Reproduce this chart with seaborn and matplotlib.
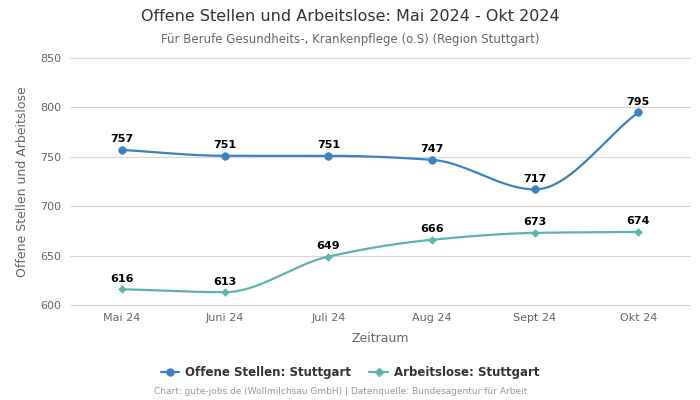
import numpy as np
import pandas as pd
import seaborn as sns
from matplotlib import pyplot as plt

months = ['Mai 24', 'Juni 24', 'Juli 24', 'Aug 24', 'Sept 24', 'Okt 24']
offene_stellen = [757, 751, 751, 747, 717, 795]
arbeitslose = [616, 613, 649, 666, 673, 674]

blue = '#3b82bf'
teal = '#5bb4ad'


def pchip(x, y, xs):
    # monotone cubic curve through the points, for a smooth line look
    x = np.asarray(x, float)
    y = np.asarray(y, float)
    h = np.diff(x)
    d = np.diff(y) / h
    m = np.zeros_like(y)
    for k in range(1, len(y) - 1):
        if d[k - 1] * d[k] > 0:
            w1 = 2 * h[k] + h[k - 1]
            w2 = h[k] + 2 * h[k - 1]
            m[k] = (w1 + w2) / (w1 / d[k - 1] + w2 / d[k])
    m[0] = d[0]
    m[-1] = d[-1]
    out = np.empty_like(xs)
    for i, xv in enumerate(xs):
        k = min(np.searchsorted(x, xv, side='right') - 1, len(x) - 2)
        t = (xv - x[k]) / h[k]
        h00 = 2 * t**3 - 3 * t**2 + 1
        h10 = t**3 - 2 * t**2 + t
        h01 = -2 * t**3 + 3 * t**2
        h11 = t**3 - t**2
        out[i] = h00 * y[k] + h10 * h[k] * m[k] + h01 * y[k + 1] + h11 * h[k] * m[k + 1]
    return out


sns.set_theme(style='white')
plt.rcParams['font.family'] = ['DejaVu Sans']

df = pd.DataFrame({'pos': np.arange(len(months)), 'Monat': months,
                   'Offene Stellen: Stuttgart': offene_stellen,
                   'Arbeitslose: Stuttgart': arbeitslose})

fig = plt.figure(figsize=(7, 4), dpi=100)
ax = fig.add_axes([0.1, 0.2375, 0.8857, 0.6175])

xs = np.linspace(0, len(months) - 1, 300)
for col, color, marker, ms in [('Offene Stellen: Stuttgart', blue, 'o', 5.5),
                               ('Arbeitslose: Stuttgart', teal, 'D', 4)]:
    smooth = pd.DataFrame({'x': xs, 'y': pchip(df['pos'], df[col], xs)})
    sns.lineplot(data=smooth, x='x', y='y', ax=ax, color=color, linewidth=1.6)
    sns.scatterplot(data=df, x='pos', y=col, ax=ax, color=color, marker=marker,
                    s=ms**2, edgecolor=color, zorder=3)
    for px, val in zip(df['pos'], df[col]):
        ax.annotate(str(val), (px, val), xytext=(0, 4), textcoords='offset points',
                    ha='center', va='bottom', fontsize=8, fontweight='bold', color='black')

ax.set_xlim(-0.5, len(months) - 0.5)
ax.set_ylim(600, 850)
ax.set_yticks(range(600, 851, 50))
ax.set_xticks(df['pos'])
ax.set_xticklabels(months)
for yv in range(600, 851, 50):
    ax.axhline(yv, color='#d6d6d6', linewidth=0.8, zorder=0, clip_on=False)
for s in ax.spines.values():
    s.set_visible(False)
ax.tick_params(axis='both', labelsize=8, colors='#666666', length=0, pad=6)
ax.set_xlabel('Zeitraum', fontsize=9, color='#666666', labelpad=6)
ax.set_ylabel('Offene Stellen und Arbeitslose', fontsize=9, color='#666666', labelpad=8)

fig.text(0.5, 0.958, 'Offene Stellen und Arbeitslose: Mai 2024 - Okt 2024', ha='center', va='center',
         fontsize=11.5, color='#333333')
fig.text(0.5, 0.902, 'Für Berufe Gesundheits-, Krankenpflege (o.S) (Region Stuttgart)', ha='center',
         va='center', fontsize=8.5, color='#666666')

handles = [plt.Line2D([], [], color=blue, marker='o', markersize=5, linewidth=1.6),
           plt.Line2D([], [], color=teal, marker='D', markersize=4, linewidth=1.6)]
leg = fig.legend(handles, ['Offene Stellen: Stuttgart', 'Arbeitslose: Stuttgart'], loc='center',
                 bbox_to_anchor=(0.5, 0.068), ncol=2, frameon=False, fontsize=8.5,
                 handlelength=1.6, columnspacing=1.5, handletextpad=0.5)
for t in leg.get_texts():
    t.set_fontweight('bold')
    t.set_color('#333333')

fig.text(0.486, 0.02, 'Chart: gute-jobs.de (Wollmilchsau GmbH) | Datenquelle: Bundesagentur für Arbeit',
         ha='center', va='center', fontsize=6.5, color='#999999')

fig.savefig('out.png', dpi=100)
